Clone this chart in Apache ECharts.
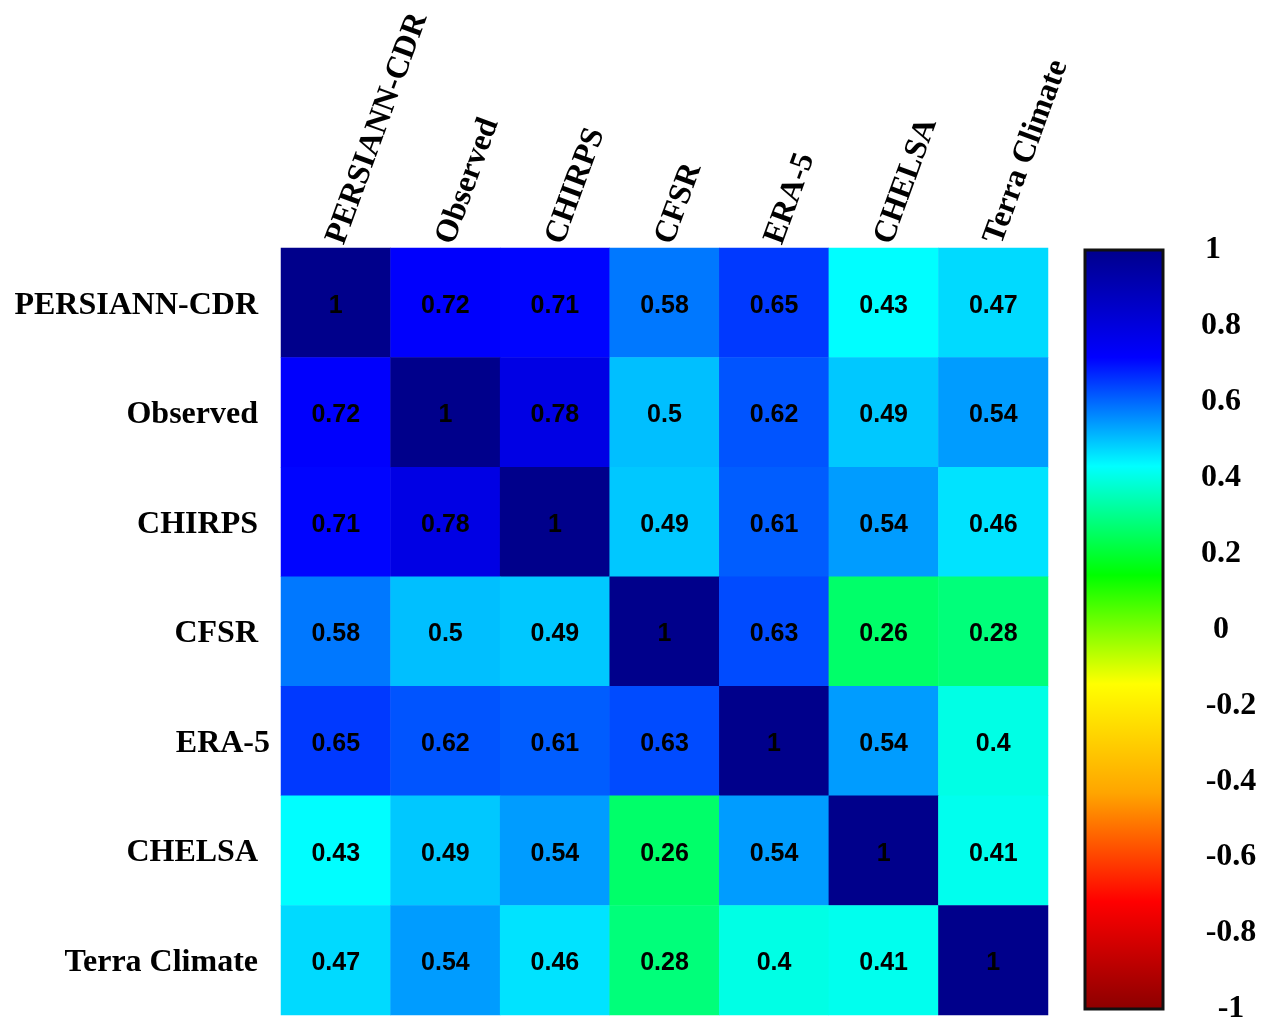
<!DOCTYPE html>
<html>
<head>
<meta charset="utf-8">
<script src="https://cdn.jsdelivr.net/npm/echarts@6/dist/echarts.min.js"></script>
<style>
html,body{margin:0;padding:0;background:#fff;}
#chart{width:1268px;height:1025px;}
</style>
</head>
<body>
<div id="chart"></div>
<script>
const categories = ['PERSIANN-CDR','Observed','CHIRPS','CFSR','ERA-5','CHELSA','Terra Climate'];
const rowPersiann = [1, 0.72, 0.71, 0.58, 0.65, 0.43, 0.47];
const rowObserved = [0.72, 1, 0.78, 0.5, 0.62, 0.49, 0.54];
const rowChirps   = [0.71, 0.78, 1, 0.49, 0.61, 0.54, 0.46];
const rowCfsr     = [0.58, 0.5, 0.49, 1, 0.63, 0.26, 0.28];
const rowEra5     = [0.65, 0.62, 0.61, 0.63, 1, 0.54, 0.4];
const rowChelsa   = [0.43, 0.49, 0.54, 0.26, 0.54, 1, 0.41];
const rowTerra    = [0.47, 0.54, 0.46, 0.28, 0.4, 0.41, 1];
const colorbarRange = [-1, 1];

const rows = [rowPersiann, rowObserved, rowChirps, rowCfsr, rowEra5, rowChelsa, rowTerra];
const palette = ['#8B0000','#FF0000','#FFA500','#FFFF00','#00FF00','#00FFFF','#0000FF','#00008B'];

const heatData = [];
rows.forEach((row, yi) => row.forEach((v, xi) => heatData.push([xi, yi, v])));

const serif = "'Liberation Serif','Times New Roman',serif";
const sans = "'Liberation Sans',Arial,sans-serif";

const gradStops = palette.slice().reverse().map((c, i, a) => ({offset: i / (a.length - 1), color: c}));

const tickFont = {fontFamily: serif, fontWeight: 'bold', fontSize: 32, color: '#000'};

const chart = echarts.init(document.getElementById('chart'));
chart.setOption({
  animation: false,
  backgroundColor: '#fff',
  grid: [
    {left: 281, top: 248, width: 767, height: 767, containLabel: false},
    {left: 1085, top: 250, width: 78, height: 763, containLabel: false}
  ],
  xAxis: [
    {
      type: 'category', data: categories, position: 'top', gridIndex: 0,
      axisLine: {show: false}, axisTick: {show: false}, splitArea: {show: false},
      axisLabel: Object.assign({rotate: -70, margin: 5}, tickFont)
    },
    {type: 'value', gridIndex: 1, min: 0, max: 1, show: false}
  ],
  yAxis: [
    {
      type: 'category', data: categories, inverse: true, gridIndex: 0,
      axisLine: {show: false}, axisTick: {show: false}, splitArea: {show: false},
      axisLabel: {
        margin: 11,
        formatter: v => v === 'ERA-5' ? '{e|' + v + '}' : '{a|' + v + '}',
        rich: {
          a: Object.assign({padding: [5, 12, 0, 0]}, tickFont),
          e: Object.assign({padding: [5, 0, 0, 0]}, tickFont)
        }
      }
    },
    {
      type: 'value', gridIndex: 1, position: 'right',
      min: colorbarRange[0], max: colorbarRange[1], interval: 0.2,
      splitLine: {show: false},
      axisLine: {show: true, lineStyle: {color: '#111', width: 2}},
      axisTick: {show: true, length: 17, lineStyle: {color: '#111', width: 2}},
      axisLabel: {
        margin: 58, align: 'center',
        formatter: v => {
          const s = String(Math.round(v * 10) / 10);
          if (v < -1e-9) return '{n|' + s + '}';
          if (Math.abs(v - 1) < 1e-9) return '{o|' + s + '}';
          return '{p|' + s + '}';
        },
        rich: {
          n: Object.assign({padding: [0, 0, 0, 20]}, tickFont),
          o: Object.assign({padding: [0, 16, 0, 0]}, tickFont),
          p: Object.assign({}, tickFont)
        }
      }
    }
  ],
  visualMap: {
    show: false, type: 'continuous', min: colorbarRange[0], max: colorbarRange[1],
    seriesIndex: 0, dimension: 2, inRange: {color: palette}
  },
  series: [
    {
      type: 'heatmap', xAxisIndex: 0, yAxisIndex: 0, data: heatData,
      itemStyle: {borderWidth: 0},
      emphasis: {disabled: true},
      label: {show: true, offset: [0, 3], formatter: p => String(p.value[2]), fontFamily: sans, fontWeight: 'bold', fontSize: 25, color: '#000'}
    },
    {
      type: 'custom', xAxisIndex: 1, yAxisIndex: 1, silent: true,
      data: [[0, colorbarRange[0], 1, colorbarRange[1]]],
      renderItem: (params, api) => {
        const tl = api.coord([api.value(0), api.value(3)]);
        const br = api.coord([api.value(2), api.value(1)]);
        return {
          type: 'rect',
          shape: {x: tl[0], y: tl[1], width: br[0] - tl[0], height: br[1] - tl[1]},
          style: {
            fill: new echarts.graphic.LinearGradient(0, 0, 0, 1, gradStops),
            stroke: '#111', lineWidth: 3
          }
        };
      }
    }
  ]
});
</script>
</body>
</html>
